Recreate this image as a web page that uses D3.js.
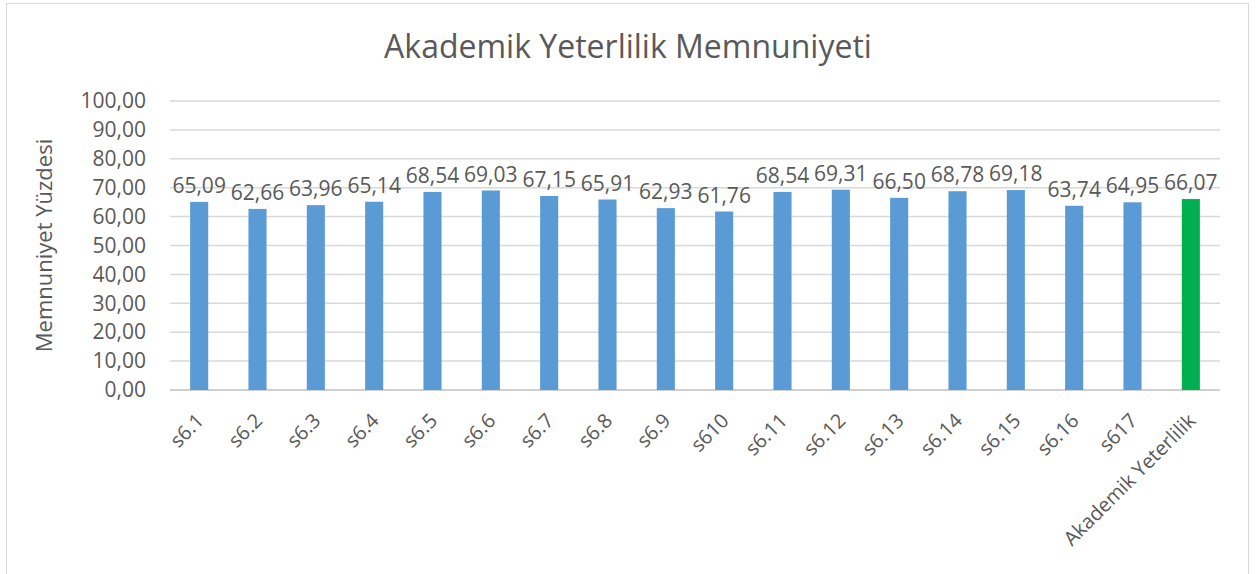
<!DOCTYPE html>
<html>
<head>
<meta charset="utf-8">
<script src="https://cdn.jsdelivr.net/npm/d3@7"></script>
<style>
body { margin: 0; background: #fff; }
text { font-family: "Open Sans", "Noto Sans", sans-serif; fill: #595959; }
</style>
</head>
<body>
<div id="chart"></div>
<script>
var categories = ["s6.1", "s6.2", "s6.3", "s6.4", "s6.5", "s6.6", "s6.7", "s6.8", "s6.9", "s610",
    "s6.11", "s6.12", "s6.13", "s6.14", "s6.15", "s6.16", "s617", "Akademik Yeterlilik"]
var values = [65.09, 62.66, 63.96, 65.14, 68.54, 69.03, 67.15, 65.91, 62.93, 61.76,
    68.54, 69.31, 66.50, 68.78, 69.18, 63.74, 64.95, 66.07]
var yTicks = [0, 10, 20, 30, 40, 50, 60, 70, 80, 90, 100]

var width = 1256
var height = 574
var margin = { top: 101, right: 36, bottom: 184, left: 170 }
var plotW = width - margin.left - margin.right
var plotH = height - margin.top - margin.bottom

var fmt = d => d.toFixed(2).replace(".", ",")

var svg = d3.select("#chart")
    .append("svg")
    .attr("width", width)
    .attr("height", height)

// chart frame
svg.append("rect")
    .attr("x", 6.5).attr("y", 3.5)
    .attr("width", 1242).attr("height", 580)
    .attr("fill", "none")
    .attr("stroke", "#d9d9d9")

svg.append("text")
    .attr("x", 628)
    .attr("y", 58)
    .attr("text-anchor", "middle")
    .style("font-size", "32px")
    .text("Akademik Yeterlilik Memnuniyeti")

var g = svg.append("g")
    .attr("transform", `translate(${margin.left}, ${margin.top})`)

var x = d3.scaleBand()
    .domain(categories)
    .range([0, plotW])
    .paddingInner(0.69)
    .paddingOuter(0.345)

var y = d3.scaleLinear()
    .domain([0, 100])
    .range([plotH, 0])

// gridlines
g.selectAll(".grid")
    .data(yTicks)
    .enter()
    .append("line")
    .attr("x1", 0)
    .attr("x2", plotW)
    .attr("y1", d => y(d))
    .attr("y2", d => y(d))
    .attr("stroke", d => d === 0 ? "#d0d0d0" : "#d9d9d9")
    .attr("stroke-width", d => d === 0 ? 2 : 1.5)

var yAxis = g.append("g")
    .call(d3.axisLeft(y).tickValues(yTicks).tickFormat(fmt).tickSize(0).tickPadding(24))
yAxis.select(".domain").remove()
yAxis.selectAll("text").style("font-size", "21px").attr("fill", "#595959")

g.selectAll(".bar")
    .data(values)
    .enter()
    .append("rect")
    .attr("x", (d, i) => x(categories[i]))
    .attr("y", d => y(d))
    .attr("width", x.bandwidth())
    .attr("height", d => plotH - y(d))
    .attr("fill", (d, i) => i === categories.length - 1 ? "#00b050" : "#5b9bd5")

g.selectAll(".label")
    .data(values)
    .enter()
    .append("text")
    .attr("x", (d, i) => x(categories[i]) + x.bandwidth() / 2)
    .attr("y", d => y(d) - 9)
    .attr("text-anchor", "middle")
    .style("font-size", "21px")
    .text(fmt)

var xAxis = g.append("g")
    .attr("transform", `translate(0,${plotH})`)
    .call(d3.axisBottom(x).tickSize(0).tickPadding(0))
xAxis.select(".domain").remove()
xAxis.selectAll("text")
    .style("font-size", "20px")
    .attr("fill", "#595959")
    .attr("text-anchor", "end")
    .attr("dy", null)
    .attr("transform", "translate(6,32) rotate(-45)")
    .attr("y", 0)

svg.append("text")
    .attr("transform", `translate(52, ${margin.top + plotH / 2}) rotate(-90)`)
    .attr("text-anchor", "middle")
    .style("font-size", "22px")
    .text("Memnuniyet Yüzdesi")
</script>
</body>
</html>
